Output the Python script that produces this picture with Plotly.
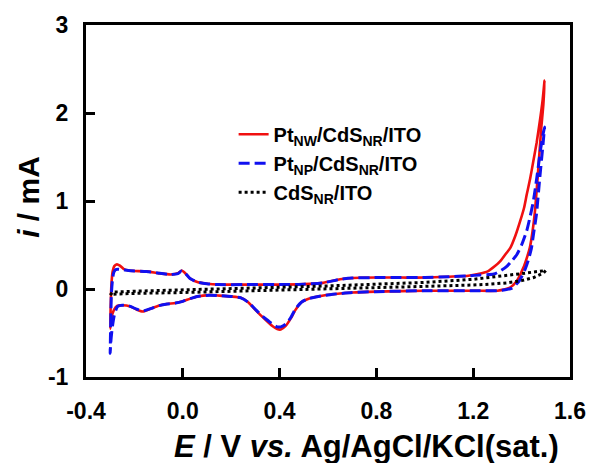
import plotly.graph_objects as go

# ---- data ----
red_E = [-0.300, -0.298, -0.295, -0.290, -0.283, -0.272, -0.260, -0.245, -0.225, -0.200, -0.150, -0.100, -0.050,
         -0.020, -0.005, 0.010, 0.030, 0.060, 0.100, 0.150, 0.250, 0.400, 0.500, 0.580, 0.650, 0.700, 0.800,
         0.900, 1.000, 1.100, 1.180, 1.220, 1.260, 1.290, 1.313, 1.335, 1.354, 1.375, 1.394, 1.410, 1.421, 1.435,
         1.448, 1.462, 1.475, 1.487, 1.495,
         1.490, 1.481, 1.468, 1.455, 1.445, 1.434, 1.420, 1.407, 1.380, 1.354, 1.320, 1.300, 1.200, 1.000, 0.800,
         0.700, 0.620, 0.570, 0.520, 0.490, 0.465, 0.445, 0.425, 0.405, 0.390, 0.370, 0.357, 0.330, 0.303, 0.270,
         0.240, 0.200, 0.150, 0.110, 0.060, 0.030, 0.000, -0.030, -0.065, -0.100, -0.130, -0.165, -0.190, -0.220,
         -0.250, -0.270, -0.285, -0.295, -0.300]
red_i = [-0.45, -0.20, 0.05, 0.20, 0.26, 0.28, 0.265, 0.23, 0.21, 0.205, 0.20, 0.18, 0.165,
         0.18, 0.21, 0.18, 0.12, 0.08, 0.06, 0.05, 0.05, 0.05, 0.055, 0.07, 0.11, 0.125, 0.13,
         0.13, 0.13, 0.14, 0.15, 0.17, 0.20, 0.26, 0.32, 0.40, 0.47, 0.61, 0.77, 0.92, 1.07, 1.25,
         1.445, 1.66, 1.90, 2.15, 2.37,
         2.10, 1.82, 1.33, 0.88, 0.65, 0.47, 0.34, 0.24, 0.09, 0.02, -0.01, -0.02, -0.02, -0.02, -0.03,
         -0.04, -0.06, -0.08, -0.11, -0.15, -0.24, -0.34, -0.42, -0.46, -0.455, -0.42, -0.39, -0.32, -0.245, -0.15,
         -0.10, -0.085, -0.075, -0.07, -0.085, -0.11, -0.14, -0.16, -0.17, -0.19, -0.22, -0.255, -0.235, -0.195,
         -0.185, -0.19, -0.24, -0.33, -0.45]

blue_E = [-0.300, -0.298, -0.295, -0.290, -0.285, -0.278, -0.268, -0.250, -0.225, -0.200, -0.150, -0.100, -0.050,
          -0.020, -0.005, 0.010, 0.030, 0.060, 0.100, 0.150, 0.250, 0.400, 0.500, 0.580, 0.650, 0.700, 0.800,
          0.900, 1.000, 1.100, 1.180, 1.230, 1.286, 1.315, 1.340, 1.360, 1.380, 1.400, 1.421, 1.435, 1.448, 1.458,
          1.468, 1.478, 1.488, 1.495,
          1.492, 1.488, 1.475, 1.461, 1.450, 1.441, 1.428, 1.414, 1.390, 1.360, 1.320, 1.300, 1.200, 1.000, 0.800,
          0.700, 0.620, 0.570, 0.520, 0.490, 0.465, 0.445, 0.425, 0.405, 0.390, 0.370, 0.357, 0.330, 0.303, 0.270,
          0.240, 0.200, 0.150, 0.110, 0.060, 0.030, 0.000, -0.030, -0.065, -0.100, -0.130, -0.165, -0.190, -0.220,
          -0.250, -0.270, -0.283, -0.292, -0.298, -0.300]
blue_i = [-0.73, -0.40, -0.05, 0.12, 0.19, 0.22, 0.225, 0.22, 0.21, 0.205, 0.20, 0.18, 0.165,
          0.175, 0.205, 0.18, 0.12, 0.08, 0.06, 0.05, 0.05, 0.05, 0.055, 0.07, 0.11, 0.125, 0.13,
          0.13, 0.13, 0.14, 0.15, 0.16, 0.17, 0.21, 0.26, 0.32, 0.39, 0.50, 0.66, 0.82, 0.99, 1.17,
          1.37, 1.58, 1.75, 1.84,
          1.75, 1.63, 1.26, 0.84, 0.64, 0.47, 0.33, 0.22, 0.09, 0.01, -0.015, -0.02, -0.02, -0.02, -0.03,
          -0.04, -0.06, -0.08, -0.11, -0.15, -0.23, -0.33, -0.40, -0.43, -0.43, -0.40, -0.37, -0.31, -0.24, -0.15,
          -0.10, -0.085, -0.075, -0.07, -0.085, -0.11, -0.14, -0.16, -0.17, -0.19, -0.22, -0.25, -0.23, -0.195,
          -0.185, -0.20, -0.30, -0.45, -0.62, -0.73]

black_E = [-0.300, -0.290, -0.200, 0.000, 0.200, 0.400, 0.600, 0.800, 1.000, 1.200, 1.270, 1.340, 1.400, 1.470, 1.500,
           1.490, 1.450, 1.400, 1.340, 1.270, 1.200, 1.000, 0.800, 0.600, 0.400, 0.200, 0.000, -0.200, -0.300]
black_i = [-0.07, -0.035, -0.025, -0.01, 0.005, 0.015, 0.035, 0.055, 0.075, 0.11, 0.13, 0.15, 0.175, 0.20, 0.21,
           0.18, 0.13, 0.095, 0.07, 0.055, 0.045, 0.03, 0.015, 0.0, -0.015, -0.03, -0.04, -0.05, -0.06]

series_names = ["Pt<sub>NW</sub>/CdS<sub>NR</sub>/ITO",
                "Pt<sub>NP</sub>/CdS<sub>NR</sub>/ITO",
                "CdS<sub>NR</sub>/ITO"]

x_tickvals = [-0.4, 0.0, 0.4, 0.8, 1.2, 1.6]
x_ticktext = ["-0.4", "0.0", "0.4", "0.8", "1.2", "1.6"]
y_tickvals = [-1, 0, 1, 2, 3]
y_ticktext = ["-1", "0", "1", "2", "3"]

FONT = "Liberation Sans, Arial, sans-serif"

fig = go.Figure()
fig.add_trace(go.Scatter(x=red_E, y=red_i, mode="lines", name=series_names[0],
                         line=dict(color="#f01010", width=2.6, shape="spline", smoothing=0.6)))
fig.add_trace(go.Scatter(x=blue_E, y=blue_i, mode="lines", name=series_names[1],
                         line=dict(color="#1010f0", width=3, dash="11px,5px", shape="spline", smoothing=0.6)))
fig.add_trace(go.Scatter(x=black_E, y=black_i, mode="lines", name=series_names[2],
                         line=dict(color="black", width=3, dash="dot")))

axis_common = dict(showgrid=False, zeroline=False, showline=True, linecolor="black", linewidth=3,
                   mirror=True, ticks="inside", ticklen=9, tickwidth=3, tickcolor="black",
                   tickfont=dict(family=FONT, size=23, color="black", weight="bold"))

fig.update_xaxes(range=[-0.4, 1.6], tickvals=x_tickvals, ticktext=x_ticktext, ticklabelstandoff=11, **axis_common)
fig.update_yaxes(range=[-1, 3], tickvals=y_tickvals, ticktext=y_ticktext, ticklabelstandoff=10, **axis_common)

fig.update_layout(
    width=598, height=463,
    margin=dict(l=86, r=17, t=22, b=86),
    paper_bgcolor="white", plot_bgcolor="white",
    showlegend=True,
    legend=dict(x=0.305, y=0.745, xanchor="left", yanchor="top", bgcolor="rgba(0,0,0,0)",
                font=dict(family=FONT, size=20, color="black", weight="bold"),
                tracegroupgap=0),
    annotations=[
        dict(text="<i>E</i> / V <i>vs.</i> Ag/AgCl/KCl(sat.)", xref="paper", yref="paper",
             x=(373 - 86) / 495, y=-(447 - 377) / 355, xanchor="center", yanchor="middle", showarrow=False,
             font=dict(family=FONT, size=31, color="black", weight="bold")),
        dict(text="<i>i</i> / mA", xref="paper", yref="paper", textangle=-90,
             x=-(86 - 27) / 495, y=(377 - 195) / 355, xanchor="center", yanchor="middle", showarrow=False,
             font=dict(family=FONT, size=30, color="black", weight="bold")),
    ],
)

fig.write_html("out.html")
